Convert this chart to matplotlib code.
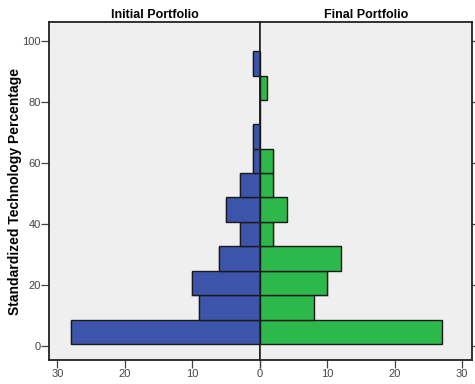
#!/usr/bin/env python3
"""
Back-to-back histogram: initial vs final portfolio
"""
import matplotlib
matplotlib.use('Agg')
import matplotlib.pyplot as plt

# bin edges of standardized technology percentage
bin_edges = [0.6, 8.6, 16.6, 24.6, 32.7, 40.7, 48.7, 56.7, 64.7, 72.7, 80.6, 88.6, 96.6]
# counts per bin, bottom to top
initial_counts = [28, 9, 10, 6, 3, 5, 3, 1, 1, 0, 0, 1]
final_counts = [27, 8, 10, 12, 2, 4, 2, 2, 0, 0, 1, 0]

x_ticks = [0, 10, 20, 30]
y_ticks = [0, 20, 40, 60, 80, 100]

blue = '#3c55aa'
green = '#2db84b'
bg = '#efefef'
txt = '#444444'

plt.rcParams['font.family'] = ['Liberation Sans', 'DejaVu Sans']

fig = plt.figure(figsize=(4.75, 3.84), dpi=100)
ax_l = fig.add_axes([0.1038, 0.0625, 0.4436, 0.8795])
ax_r = fig.add_axes([0.5474, 0.0625, 0.4456, 0.8795])

bottoms = bin_edges[:-1]
heights = [b - a for a, b in zip(bin_edges[:-1], bin_edges[1:])]

for ax, counts, col in [(ax_l, initial_counts, blue), (ax_r, final_counts, green)]:
    ax.set_facecolor(bg)
    # soft shadow behind bars
    ax.barh(bottoms, counts, height=heights, align='edge', color='#000000',
            alpha=0.12, linewidth=0, zorder=2,
            transform=ax.transData + matplotlib.transforms.ScaledTranslation(
                1.2 / 100 if ax is ax_r else -1.2 / 100, -1.2 / 100, fig.dpi_scale_trans))
    ax.barh(bottoms, counts, height=heights, align='edge', color=col,
            edgecolor='#1a1a1a', linewidth=1.0, zorder=3)
    ax.set_ylim(-4.6, 106.1)
    ax.set_xticks(x_ticks)
    for s in ax.spines.values():
        s.set_linewidth(1.3)
        s.set_color('#222222')
    ax.tick_params(axis='both', colors='#444444', labelcolor=txt, labelsize=8,
                   length=5.5, width=0.9, pad=1)
    ax.tick_params(axis='y', pad=0.5)

ax_l.set_xlim(31.2, 0)
ax_r.set_xlim(0, 31.4)
ax_l.set_yticks(y_ticks)
ax_r.set_yticks(y_ticks)
ax_r.tick_params(axis='y', left=False, labelleft=False, right=True)
ax_r.set_xticklabels(['', '10', '20', '30'])
ax_l.spines['right'].set_linewidth(1.2)
ax_r.spines['left'].set_linewidth(1.2)

ax_l.set_title('Initial Portfolio', fontsize=9, fontweight='bold', pad=3)
ax_r.set_title('Final Portfolio', fontsize=9, fontweight='bold', pad=3)
ax_l.set_ylabel('Standardized Technology Percentage', fontsize=10,
                fontweight='bold', labelpad=0)

fig.savefig('out.png', dpi=100)
plt.close(fig)
